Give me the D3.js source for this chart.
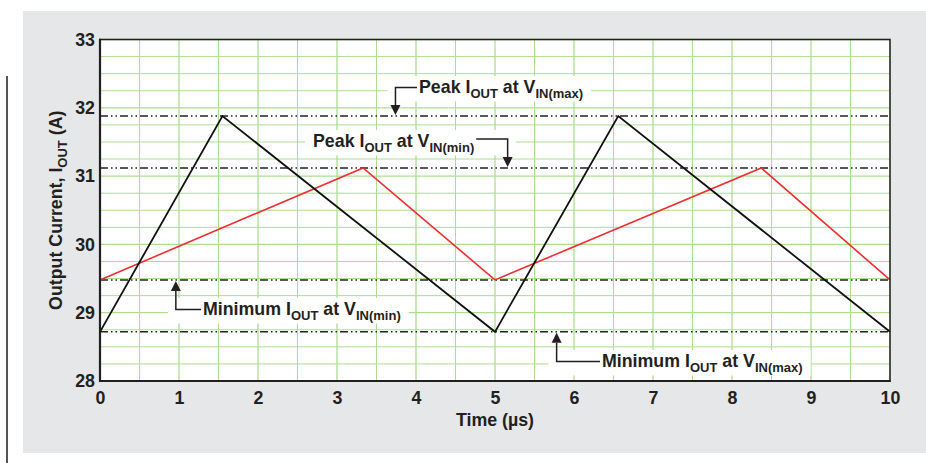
<!DOCTYPE html>
<html><head><meta charset="utf-8">
<script src="https://cdn.jsdelivr.net/npm/d3@7"></script>
<style>
html,body{margin:0;padding:0;background:#fff;}
svg{display:block;font-family:"Liberation Sans",Arial,Helvetica,sans-serif;}
</style></head>
<body>
<svg id="chart" width="926" height="463"></svg>
<script>
// ---- data ----
const xTicks = [0,1,2,3,4,5,6,7,8,9,10];
const yTicks = [28,29,30,31,32,33];
const xGrid = d3.range(0, 10.01, 0.5);
const yGrid = d3.range(28, 33.01, 0.25);
const vinMaxTime = [0, 1.55, 5, 6.56, 10];
const vinMaxCurrent = [28.72, 31.88, 28.72, 31.88, 28.72];
const vinMinTime = [0, 3.33, 5, 8.37, 10];
const vinMinCurrent = [29.48, 31.12, 29.48, 31.12, 29.48];
const refLevels = [31.88, 31.12, 29.48, 28.72];
const annLabels = [
  {main:"Peak I", sub1:"OUT", mid:" at V", sub2:"IN(max)", level:31.88},
  {main:"Peak I", sub1:"OUT", mid:" at V", sub2:"IN(min)", level:31.12},
  {main:"Minimum I", sub1:"OUT", mid:" at V", sub2:"IN(min)", level:29.48},
  {main:"Minimum I", sub1:"OUT", mid:" at V", sub2:"IN(max)", level:28.72}
];

// ---- layout ----
const svg = d3.select("#chart");
const L = 100, R = 890, T = 39.5, B = 381;
const x = d3.scaleLinear().domain([0,10]).range([L,R]);
const y = d3.scaleLinear().domain([28,33]).range([B,T]);
const FS = 17.8, SFS = 13, INK = "#231f20";

// background panel
svg.append("rect").attr("x",23).attr("y",11).attr("width",903).attr("height",442).attr("fill","#e6e7e9");
svg.append("line").attr("x1",7).attr("x2",7).attr("y1",76).attr("y2",463).attr("stroke","#555").attr("stroke-width",2);

// plot area
svg.append("rect").attr("x",L).attr("y",T).attr("width",R-L).attr("height",B-T).attr("fill","#fff");

const grid = svg.append("g");
grid.selectAll(".vg").data(xGrid).join("line")
  .attr("x1",d=>x(d)).attr("x2",d=>x(d)).attr("y1",T).attr("y2",B)
  .attr("stroke","#addd93").attr("stroke-width",d=>Number.isInteger(d)?1.3:1);
grid.selectAll(".hg").data(yGrid).join("line")
  .attr("x1",L).attr("x2",R).attr("y1",d=>y(d)).attr("y2",d=>y(d))
  .attr("stroke","#addd93").attr("stroke-width",d=>Number.isInteger(d)?1.3:1);

// annotation geometry (pixel layout)
const annLayout = [
  {tx:419, ty:93,  side:"left",  elbowT:3.74, dir:"down"},
  {tx:313, ty:147, side:"right", elbowT:5.16, dir:"down"},
  {tx:203, ty:315, side:"left",  elbowT:0.96, dir:"up"},
  {tx:602, ty:367, side:"left",  elbowT:5.78, dir:"up"}
];

const boxLayer = svg.append("g");
const refLayer = svg.append("g");
const lineLayer = svg.append("g");
const annLayer = svg.append("g");

// reference dash-dot-dot lines
refLayer.selectAll("line").data(refLevels).join("line")
  .attr("x1",L).attr("x2",R).attr("y1",d=>y(d)).attr("y2",d=>y(d))
  .attr("stroke","#222").attr("stroke-width",1.5)
  .attr("stroke-dasharray","8,3,1.5,3,1.5,3");

// waveforms
const lineGen = d3.line().x(d=>x(d[0])).y(d=>y(d[1]));
lineLayer.append("path").datum(d3.zip(vinMinTime, vinMinCurrent))
  .attr("d",lineGen).attr("fill","none").attr("stroke","#ee2e2e").attr("stroke-width",1.6);
lineLayer.append("path").datum(d3.zip(vinMaxTime, vinMaxCurrent))
  .attr("d",lineGen).attr("fill","none").attr("stroke","#111").attr("stroke-width",1.8);

// annotations
annLabels.forEach((a,i)=>{
  const lay = annLayout[i];
  const t = annLayer.append("text").attr("x",lay.tx).attr("y",lay.ty)
    .attr("font-size",FS).attr("font-weight","bold").attr("fill",INK);
  t.append("tspan").text(a.main);
  t.append("tspan").attr("font-size",SFS).attr("dy",4.5).text(a.sub1);
  t.append("tspan").attr("dy",-4.5).text(a.mid);
  t.append("tspan").attr("font-size",SFS).attr("dy",4.5).text(a.sub2);
  const bb = t.node().getBBox();
  const ex = x(lay.elbowT);
  const lineY = lay.ty - 5.5 - (lay.side==="right" ? 2.5 : 0);
  const fromX = lay.side==="left" ? bb.x - 2 : bb.x + bb.width + 2;
  const tipY = y(a.level) + (lay.dir==="down" ? -1 : 1);
  const headLen = 10, headW = 5;
  const baseY = lay.dir==="down" ? tipY - headLen : tipY + headLen;
  annLayer.append("path")
    .attr("d",`M${fromX},${lineY}H${ex}V${baseY}`)
    .attr("fill","none").attr("stroke",INK).attr("stroke-width",1.5);
  annLayer.append("path")
    .attr("d",`M${ex-headW},${baseY}L${ex+headW},${baseY}L${ex},${tipY}Z`)
    .attr("fill",INK);
  const x0 = Math.min(bb.x, ex) - 8, x1 = Math.max(bb.x+bb.width, ex) + 8;
  const y0 = bb.y - 1, y1 = bb.y + bb.height + 1;
  boxLayer.append("rect").attr("x",x0).attr("y",y0).attr("width",x1-x0).attr("height",y1-y0).attr("fill","#fff");
});

// frame
svg.append("rect").attr("x",L).attr("y",T).attr("width",R-L).attr("height",B-T)
  .attr("fill","none").attr("stroke",INK).attr("stroke-width",1.5);
svg.append("line").attr("x1",L).attr("x2",L).attr("y1",T-0.75).attr("y2",B+1).attr("stroke",INK).attr("stroke-width",2.2);
svg.append("line").attr("x1",L-1).attr("x2",R+0.75).attr("y1",B).attr("y2",B).attr("stroke",INK).attr("stroke-width",2.2);

// axes tick labels
const xAxis = d3.axisBottom(x).tickValues(xTicks).tickSize(0).tickPadding(10).tickFormat(d3.format("d"));
const gx = svg.append("g").attr("transform",`translate(0,${B})`).call(xAxis);
gx.select(".domain").remove();
gx.selectAll("text").attr("font-size",FS).attr("font-weight","bold").attr("fill",INK)
  .attr("font-family","'Liberation Sans',Arial,sans-serif");

const yAxis = d3.axisLeft(y).tickValues(yTicks).tickSize(0).tickPadding(5).tickFormat(d3.format("d"));
const gy = svg.append("g").attr("transform",`translate(${L},0)`).call(yAxis);
gy.select(".domain").remove();
gy.selectAll("text").attr("font-size",FS).attr("font-weight","bold").attr("fill",INK)
  .attr("font-family","'Liberation Sans',Arial,sans-serif");

// axis titles
svg.append("text").attr("x",(L+R)/2).attr("y",426).attr("text-anchor","middle")
  .attr("font-size",FS).attr("font-weight","bold").attr("fill",INK).text("Time (µs)");
const yt = svg.append("text").attr("transform",`translate(62,${(T+B)/2}) rotate(-90)`).attr("text-anchor","middle")
  .attr("font-size",FS).attr("font-weight","bold").attr("fill",INK);
yt.append("tspan").text("Output Current, I");
yt.append("tspan").attr("font-size",SFS).attr("dy",4.5).text("OUT");
yt.append("tspan").attr("dy",-4.5).text(" (A)");
</script>
</body></html>
